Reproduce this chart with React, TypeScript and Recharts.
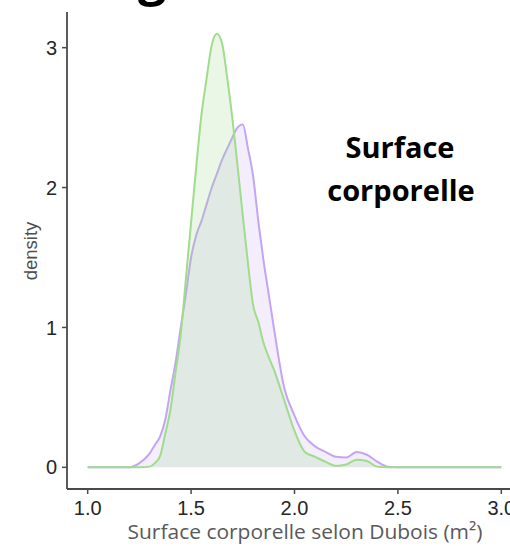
import React from 'react';
import { ComposedChart, Area, XAxis, YAxis } from 'recharts';

// body surface area grid (m²) and the two density curves sampled on it
const bsa = [
  1.0, 1.2, 1.25, 1.3, 1.325, 1.35, 1.375, 1.4, 1.425, 1.45, 1.475, 1.5, 1.525, 1.55,
  1.575, 1.6, 1.625, 1.65, 1.675, 1.7, 1.725, 1.75, 1.775, 1.8, 1.825, 1.85, 1.875,
  1.9, 1.95, 2.0, 2.05, 2.1, 2.15, 2.2, 2.25, 2.3, 2.35, 2.4, 2.45, 2.5, 3.0,
];

const densityPurple = [
  0, 0, 0.03, 0.1, 0.16, 0.22, 0.34, 0.55, 0.75, 1.0, 1.24, 1.5, 1.66, 1.76,
  1.88, 2.0, 2.1, 2.2, 2.28, 2.36, 2.43, 2.45, 2.28, 2.08, 1.76, 1.48, 1.24,
  1.0, 0.57, 0.37, 0.22, 0.15, 0.11, 0.075, 0.07, 0.11, 0.09, 0.04, 0.005, 0, 0,
];

const densityGreen = [
  0, 0, 0, 0.005, 0.03, 0.08, 0.24, 0.41, 0.68, 0.95, 1.35, 1.75, 2.15, 2.52,
  2.78, 3.02, 3.1, 3.03, 2.78, 2.49, 2.15, 1.8, 1.46, 1.16, 1.04, 0.89, 0.79,
  0.7, 0.48, 0.26, 0.11, 0.075, 0.04, 0.01, 0.02, 0.055, 0.045, 0.005, 0, 0, 0,
];

const xTicks = [1.0, 1.5, 2.0, 2.5, 3.0];
const yTicks = [0, 1, 2, 3];

const data = bsa.map((x, i) => ({ x, purple: densityPurple[i], green: densityGreen[i] }));

const axisColor = '#4a4a4a';
const tickStyle = { fill: '#262626', fontSize: 20, fontFamily: 'Liberation Sans, Arial, sans-serif' };

const App: React.FC = () => (
  <div
    style={{
      position: 'absolute',
      left: 0,
      top: 0,
      width: 510,
      height: 546,
      overflow: 'hidden',
      background: '#ffffff',
    }}
  >
    <ComposedChart
      width={540}
      height={546}
      data={data}
      margin={{ top: 12, right: 18, bottom: 0, left: 0 }}
    >
      <XAxis
        type="number"
        dataKey="x"
        domain={[0.9, 3.1]}
        ticks={xTicks}
        tickFormatter={(v: number) => v.toFixed(1)}
        height={57}
        tickSize={5}
        tickMargin={7}
        tick={tickStyle}
        axisLine={{ stroke: axisColor, strokeWidth: 1.8 }}
        tickLine={{ stroke: axisColor, strokeWidth: 1.5 }}
      />
      <YAxis
        type="number"
        domain={[-0.155, 3.255]}
        ticks={yTicks}
        width={67}
        tickSize={5}
        tickMargin={5}
        tick={tickStyle}
        axisLine={{ stroke: axisColor, strokeWidth: 1.8 }}
        tickLine={{ stroke: axisColor, strokeWidth: 1.5 }}
      />
      <Area
        type="monotone"
        dataKey="purple"
        stroke="#c3a5f2"
        strokeWidth={2}
        fill="#c3a5f2"
        fillOpacity={0.2}
        isAnimationActive={false}
      />
      <Area
        type="monotone"
        dataKey="green"
        stroke="#a0dc8c"
        strokeWidth={2}
        fill="#a0dc8c"
        fillOpacity={0.22}
        isAnimationActive={false}
      />
    </ComposedChart>
    <svg
      width={510}
      height={546}
      style={{ position: 'absolute', left: 0, top: 0, pointerEvents: 'none' }}
    >
      {/* tail of the heading above the plot */}
      <text
        x={152}
        y={-5}
        textAnchor="middle"
        fontFamily="Open Sans, sans-serif"
        fontWeight={700}
        fontSize={50}
        fill="#000"
      >
        g
      </text>
      <text
        transform="translate(37 251) rotate(-90)"
        textAnchor="middle"
        fontFamily="Liberation Sans, Arial, sans-serif"
        fontSize={18.5}
        fill="#4d4d4d"
      >
        density
      </text>
      <text
        x={400}
        textAnchor="middle"
        fontFamily="Open Sans, sans-serif"
        fontWeight={700}
        fontSize={29}
        fill="#000"
      >
        <tspan x={400} y={158}>Surface</tspan>
        <tspan x={401} y={201}>corporelle</tspan>
      </text>
      <text
        x={305}
        y={539}
        textAnchor="middle"
        fontFamily="Open Sans, sans-serif"
        fontSize={20}
        fill="#595959"
        textLength={355}
        lengthAdjust="spacingAndGlyphs"
      >
        Surface corporelle selon Dubois (m²)
      </text>
    </svg>
  </div>
);

export default App;
